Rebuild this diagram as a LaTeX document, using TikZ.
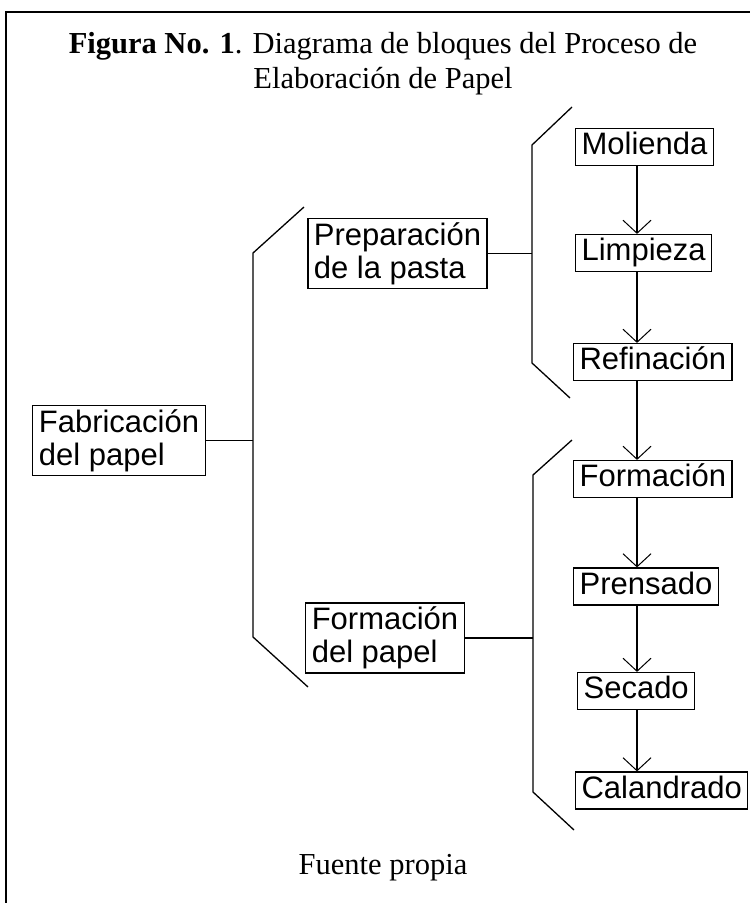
\documentclass[tikz,border=0pt]{standalone}
\usepackage{fontspec}
\setmainfont{Liberation Serif}
\newfontfamily\cajafont{Liberation Sans}
\usetikzlibrary{arrows.meta}

\tikzset{bloque/.style = {shape = rectangle,
                          draw,
                          line width = 1.2pt,
                          inner xsep = 6pt,
                          inner ysep = 3pt,
                          text height = 23pt,
                          text depth = 8pt,
                          font = \cajafont\fontsize{31}{33}\selectfont},
         bloquedoble/.style = {shape = rectangle,
                          draw,
                          line width = 1.2pt,
                          inner xsep = 6pt,
                          inner ysep = 0pt,
                          minimum height = 70pt,
                          align = left,
                          font = \cajafont\fontsize{31}{33}\selectfont},
         corchete/.style = {line width = 1.3pt},
         flecha/.style = {line width = 1.3pt,
                          -{Straight Barb[length=13pt, width=28pt, line width=1pt]}},
         titulo/.style = {align = center,
                          font = \fontsize{30.5}{35}\selectfont}}

\begin{document}
\begin{tikzpicture}[x = 1pt, y = -1pt]
		\useasboundingbox (0,0) rectangle (750,903);
		% marco
		\draw[line width = 2pt] (750,12) -- (6,12) -- (6,903);
		\node[titulo] (tit) at (383,64) {\textbf{Figura No. 1}. Diagrama de bloques del Proceso de\\Elaboración de Papel};
		\node[titulo, anchor = base] (fuente) at (383,874) {Fuente propia};
		% bloques
		\node[bloquedoble] (fab) at (119,440.5) {Fabricación\\del papel};
		\node[bloquedoble] (prep) at (397.5,253.5) {Preparación\\de la pasta};
		\node[bloquedoble] (form) at (385,638) {Formación\\del papel};
		\node[bloque, anchor = west] (mol) at (575,147) {Molienda};
		\node[bloque, anchor = west] (limp) at (575,253) {Limpieza};
		\node[bloque, anchor = west] (ref) at (573,362) {Refinación};
		\node[bloque, anchor = west] (forma) at (573,479) {Formación};
		\node[bloque, anchor = west] (pren) at (573,586.5) {Prensado};
		\node[bloque, anchor = west] (sec) at (577,691) {Secado};
		\node[bloque, anchor = west] (cal) at (575,790.5) {Calandrado};
		\coordinate (eje) at (637,0);
		\coordinate (c1) at (253,0);
		\coordinate (c2) at (532,0);
		\coordinate (c3) at (533,0);
		% corchetes
		\draw[corchete] (304,207) -- (253,253) -- (253,637) -- (308,687);
		\draw[corchete] (572,107) -- (532,145) -- (532,363) -- (570,398);
		\draw[corchete] (572,440) -- (533,475) -- (533,792) -- (574,830);
		\draw[corchete] (fab.east) -- (fab.east -| c1);
		\draw[corchete] (prep.east) -- (prep.east -| c2);
		\draw[corchete] (form.east) -- (form.east -| c3);
		% flechas
		\draw[flecha] (mol.south -| eje) -- (limp.north -| eje);
		\draw[flecha] (limp.south -| eje) -- (ref.north -| eje);
		\draw[flecha] (ref.south -| eje) -- (forma.north -| eje);
		\draw[flecha] (forma.south -| eje) -- (pren.north -| eje);
		\draw[flecha] (pren.south -| eje) -- (sec.north -| eje);
		\draw[flecha] (sec.south -| eje) -- (cal.north -| eje);
	\end{tikzpicture}
\end{document}
